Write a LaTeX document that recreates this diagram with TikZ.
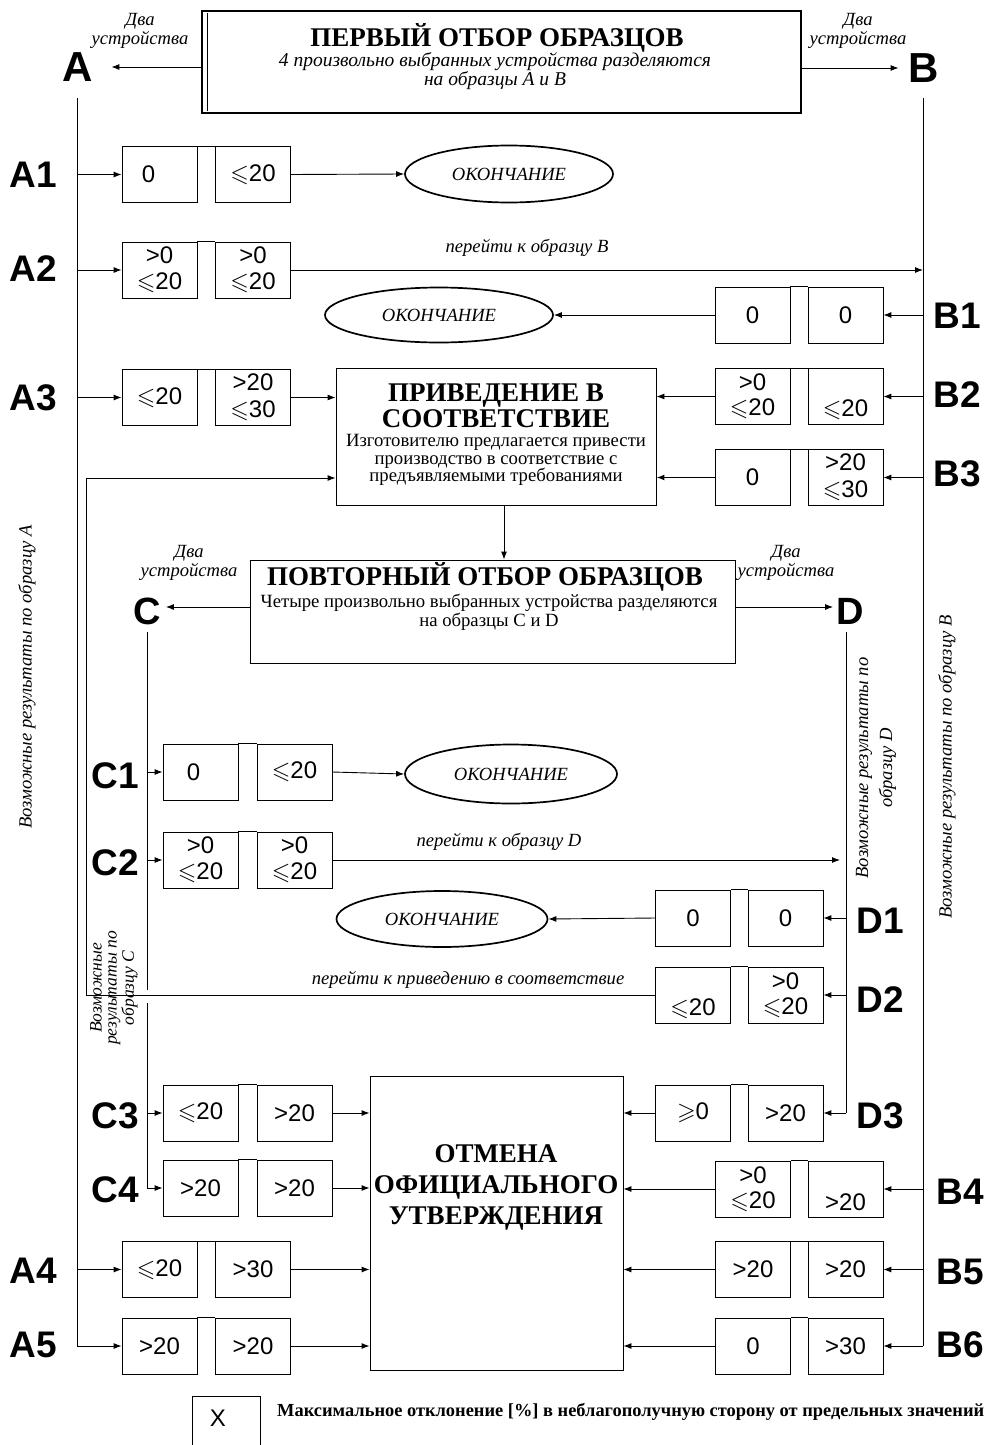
\documentclass[tikz,border=0pt]{standalone}
\usepackage{amssymb}
\usepackage{fontspec}
\setmainfont{Liberation Serif}
\newfontfamily\arialf{Liberation Sans}
\usetikzlibrary{arrows.meta,shapes.geometric}
\newcommand\lsl{\ensuremath{\leqslant}}
\newcommand\gsl{\ensuremath{\geqslant}}
\newcommand\pairbox[6]{%
  \node[numbox] (#1a) at (#2,#4) {#5};
  \node[numbox] (#1b) at (#3,#4) {#6};
  \draw[conn] (#1a.north east) -- (#1b.north west);}
\tikzset{
  numbox/.style={draw, line width=0.8pt, minimum width=75pt, minimum height=56pt, inner sep=0pt, align=center, font=\arialf\fontsize{24}{25.5}\selectfont},
  biglbl/.style={font=\arialf\bfseries\fontsize{37}{37}\selectfont, inner sep=0pt},
  toplbl/.style={font=\arialf\bfseries\fontsize{42}{42}\selectfont, inner sep=0pt},
  itx/.style={font=\itshape\fontsize{18.6}{18.6}\selectfont, align=center, inner sep=0pt},
  endell/.style={draw, ellipse, line width=1.7pt, inner sep=0pt, font=\itshape\fontsize{18.6}{18.6}\selectfont},
  flow/.style={line width=0.9pt, -{Latex[length=8pt,width=6pt]}},
  conn/.style={line width=0.8pt},
  bigbox/.style={draw, line width=0.9pt, inner sep=0pt},
  ttl/.style={font=\bfseries\fontsize{27}{26}\selectfont, inner sep=0pt, align=center},
  body/.style={font=\fontsize{18.7}{19}\selectfont, inner sep=0pt, align=center},
}
\begin{document}
\begin{tikzpicture}[x=1pt,y=-1pt]
\useasboundingbox (0,0) rectangle (991,1445);
\fill[white] (0,0) rectangle (991,1445);

% first sampling
\node[draw, line width=2.2pt, minimum width=599pt, minimum height=102pt, inner sep=0pt] (first) at (501.5,62) {};
\draw[line width=0.6pt] (207,13) -- (207,111);
\node[ttl] (firstT) at (497,38) {ПЕРВЫЙ ОТБОР ОБРАЗЦОВ};
\node[itx, font=\itshape\fontsize{19.5}{18.5}\selectfont] (firstS) at (495,71) {4 произвольно выбранных устройства разделяются\\на образцы A и B};
\node[toplbl] (lA) at (78,67) {A};
\node[toplbl] (lB) at (924,68) {B};
\node[itx] (twoA) at (140,31) {Два\\устройства};
\node[itx] (twoB) at (858,31) {Два\\устройства};
\draw[flow] (first.west |- lA) -- ([xshift=18pt]lA.east);
\draw[flow] (first.east |- lB) -- ([xshift=-10pt]lB.west);
\coordinate (Atop) at (77,98);
\coordinate (Btop) at (923,98);

% A / B row labels
\node[biglbl] (lA1) at (33,175) {A1};
\node[biglbl] (lA2) at (33,269) {A2};
\node[biglbl] (lA3) at (33,398) {A3};
\node[biglbl] (lA4) at (33,1271) {A4};
\node[biglbl] (lA5) at (33,1345) {A5};
\node[biglbl] (lB1) at (957,316) {B1};
\node[biglbl] (lB2) at (957,395) {B2};
\node[biglbl] (lB3) at (957,474) {B3};
\node[biglbl] (lB4) at (960,1192) {B4};
\node[biglbl] (lB5) at (960,1272) {B5};
\node[biglbl] (lB6) at (960,1345) {B6};

% boxes
\pairbox{A1}{159.5}{253}{174.5}{0\hspace*{22pt}}{\lsl20}
\pairbox{A2}{159.5}{253}{270}{>0\\\lsl20}{>0\\\lsl20}
\pairbox{A3}{159.5}{253}{397.5}{\lsl20}{>20\\[2pt]\lsl30}
\pairbox{A4}{159.5}{253}{1269.5}{\lsl20}{>30}
\pairbox{A5}{159.5}{253}{1346}{>20}{>20}
\pairbox{B1}{752.5}{845.5}{315}{0}{0}
\pairbox{B2}{752.5}{845.5}{396.5}{>0\\\lsl20}{\strut\\\lsl20}
\pairbox{B3}{752.5}{845.5}{477.5}{0}{>20\\[2pt]\lsl30}
\pairbox{B4}{753}{845.5}{1189}{>0\\\lsl20}{\strut\\>20}
\pairbox{B5}{753}{845.5}{1269.5}{>20}{>20}
\pairbox{B6}{753}{845.5}{1346}{0}{>30}

% end ellipses
\node[endell, minimum width=208pt, minimum height=57pt] (E1) at (509,174) {ОКОНЧАНИЕ};
\node[endell, minimum width=228pt, minimum height=55pt] (E2) at (439,315) {ОКОНЧАНИЕ};

% conformance box
\node[bigbox, minimum width=320pt, minimum height=137pt] (conf) at (496,436.5) {};
\node[ttl] (confT) at (496,406) {ПРИВЕДЕНИЕ В\\СООТВЕТСТВИЕ};
\node[body, font=\fontsize{18.7}{17.8}\selectfont] (confS) at (496,460) {Изготовителю предлагается привести\\производство в соответствие с\\предъявляемыми требованиями};

% A/B connectors
\draw[conn] (Atop) -- (Atop |- A5a.west);
\draw[flow] (Atop |- A5a.west) -- (A5a.west);
\draw[flow] (Atop |- A1a.west) -- (A1a.west);
\draw[flow] (Atop |- A2a.west) -- (A2a.west);
\draw[flow] (Atop |- A3a.west) -- (A3a.west);
\draw[flow] (Atop |- A4a.west) -- (A4a.west);
\draw[conn] (Btop) -- (Btop |- B6b.east);
\draw[flow] (Btop |- B1b.east) -- (B1b.east);
\draw[flow] (Btop |- B2b.east) -- (B2b.east);
\draw[flow] (Btop |- B3b.east) -- (B3b.east);
\draw[flow] (Btop |- B4b.east) -- (B4b.east);
\draw[flow] (Btop |- B5b.east) -- (B5b.east);
\draw[flow] (Btop |- B6b.east) -- (B6b.east);
\draw[flow] (A1b.east) -- (E1.west);
\draw[flow] (A2b.east) -- (Btop |- A2b.east);
\node[itx] (goB) at (527,248) {перейти к образцу B};
\draw[flow] (B1a.west) -- (E2.east);
\draw[flow] (A3b.east) -- (conf.west |- A3b.east);
\draw[flow] (B2a.west) -- (conf.east |- B2a.west);
\draw[flow, line width=1.5pt] (B3a.west) -- (conf.east |- B3a.west);

% repeated sampling
\node[bigbox, minimum width=485pt, minimum height=103pt] (rep) at (492.5,611.5) {};
\node[ttl] (repT) at (485,577) {ПОВТОРНЫЙ ОТБОР ОБРАЗЦОВ};
\node[body] (repS) at (489,612) {Четыре произвольно выбранных устройства разделяются\\на образцы C и D};
\draw[flow] ([xshift=8pt]conf.south) -- ([xshift=8pt]conf.south |- rep.north);
\node[toplbl, font=\arialf\bfseries\fontsize{38}{38}\selectfont] (lC) at (147,611) {C};
\node[toplbl, font=\arialf\bfseries\fontsize{38}{38}\selectfont] (lD) at (850,611) {D};
\node[itx] (twoC) at (189,563) {Два\\устройства};
\node[itx] (twoD) at (786,563) {Два\\устройства};
\draw[flow] (rep.west |- 0,607) -- ([xshift=5pt]lC.east |- 0,607);
\draw[flow] (rep.east |- 0,607) -- ([xshift=-3pt]lD.west |- 0,607);
\coordinate (Ctop) at (147,632);
\coordinate (Dtop) at (846,632);

% C / D labels
\node[biglbl] (lC1) at (115,776) {C1};
\node[biglbl] (lC2) at (115,863) {C2};
\node[biglbl] (lC3) at (115,1116) {C3};
\node[biglbl] (lC4) at (115,1190) {C4};
\node[biglbl] (lD1) at (880,921) {D1};
\node[biglbl] (lD2) at (880,1000) {D2};
\node[biglbl] (lD3) at (880,1116) {D3};

\pairbox{C1}{200.5}{294.5}{772}{0\hspace*{14pt}}{\lsl20}
\pairbox{C2}{200.5}{294.5}{860}{>0\\\lsl20}{>0\\\lsl20}
\pairbox{C3}{200.5}{294.5}{1113}{\lsl20}{>20}
\pairbox{C4}{200.5}{294.5}{1188}{>20}{>20}
\pairbox{D1}{693}{785.5}{918}{0}{0}
\pairbox{D2}{693}{785.5}{995}{\strut\\\lsl20}{>0\\\lsl20}
\pairbox{D3}{693}{785.5}{1113}{\gsl0}{>20}

\node[endell, minimum width=212pt, minimum height=59pt] (E3) at (511,774) {ОКОНЧАНИЕ};
\node[endell, minimum width=211pt, minimum height=56pt] (E4) at (442,919) {ОКОНЧАНИЕ};

% cancellation box
\node[bigbox, minimum width=253pt, minimum height=294pt] (cancel) at (496.5,1223) {};
\node[ttl, font=\bfseries\fontsize{27}{31}\selectfont] (cancelT) at (496,1187) {ОТМЕНА\\ОФИЦИАЛЬНОГО\\УТВЕРЖДЕНИЯ};

% C / D connectors
\coordinate (Cgap1) at (147,990);
\coordinate (Cgap2) at (147,1003);
\draw[conn] (Ctop) -- (Cgap1);
\draw[conn] (Cgap2) -- (Ctop |- C4a.west);
\draw[flow] (Ctop |- C4a.west) -- (C4a.west);
\draw[flow] (Ctop |- C1a.west) -- (C1a.west);
\draw[flow] (Ctop |- C2a.west) -- (C2a.west);
\draw[flow] (Ctop |- C3a.west) -- (C3a.west);
\draw[conn] (Dtop) -- (Dtop |- D3b.east);
\draw[flow] (Dtop |- D3b.east) -- (D3b.east);
\draw[flow] (Dtop |- D1b.east) -- (D1b.east);
\draw[flow] (Dtop |- D2b.east) -- (D2b.east);
\draw[flow] (C1b.east) -- (E3.west);
\draw[flow] (C2b.east) -- ([xshift=-6pt]Dtop |- C2b.east);
\node[itx] (goD) at (499,842) {перейти к образцу D};
\draw[flow] (D1a.west) -- (E4.east);
\coordinate (retL) at (86,478);
\draw[flow] (D2a.west) -| (retL) -- (conf.west |- retL);
\node[itx] (goConf) at (468,980) {перейти к приведению в соответствие};

% into cancellation
\draw[flow] (C3b.east) -- (cancel.west |- C3b.east);
\draw[flow] (C4b.east) -- (cancel.west |- C4b.east);
\draw[flow] (A4b.east) -- (cancel.west |- A4b.east);
\draw[flow] (A5b.east) -- (cancel.west |- A5b.east);
\draw[flow] (D3a.west) -- (cancel.east |- D3a.west);
\draw[flow] (B4a.west) -- (cancel.east |- B4a.west);
\draw[flow] (B5a.west) -- (cancel.east |- B5a.west);
\draw[flow] (B6a.west) -- (cancel.east |- B6a.west);

% vertical captions
\node[itx, rotate=90] (vA) at (27,677) {Возможные результаты по образцу A};
\node[itx, rotate=90] (vB) at (947,767) {Возможные результаты по образцу B};
\node[itx, rotate=90, font=\itshape\fontsize{18.6}{24}\selectfont] (vD) at (876,768) {Возможные результаты по\\образцу D};
\node[itx, rotate=90, font=\itshape\fontsize{17.5}{15}\selectfont] (vC) at (114,988) {Возможные\\результаты по\\образцу C};

% legend
\node[inner sep=0pt, font=\arialf\fontsize{24}{24}\selectfont] (legX) at (218,1418) {X};
\draw[conn] (192,1460) -- (192,1396) -- (260,1396) -- (260,1460);
\node[anchor=west, inner sep=0pt, font=\bfseries\fontsize{18.4}{18.4}\selectfont] (legT) at (277,1412) {Максимальное отклонение [\%] в неблагополучную сторону от предельных значений};
\end{tikzpicture}
\end{document}
